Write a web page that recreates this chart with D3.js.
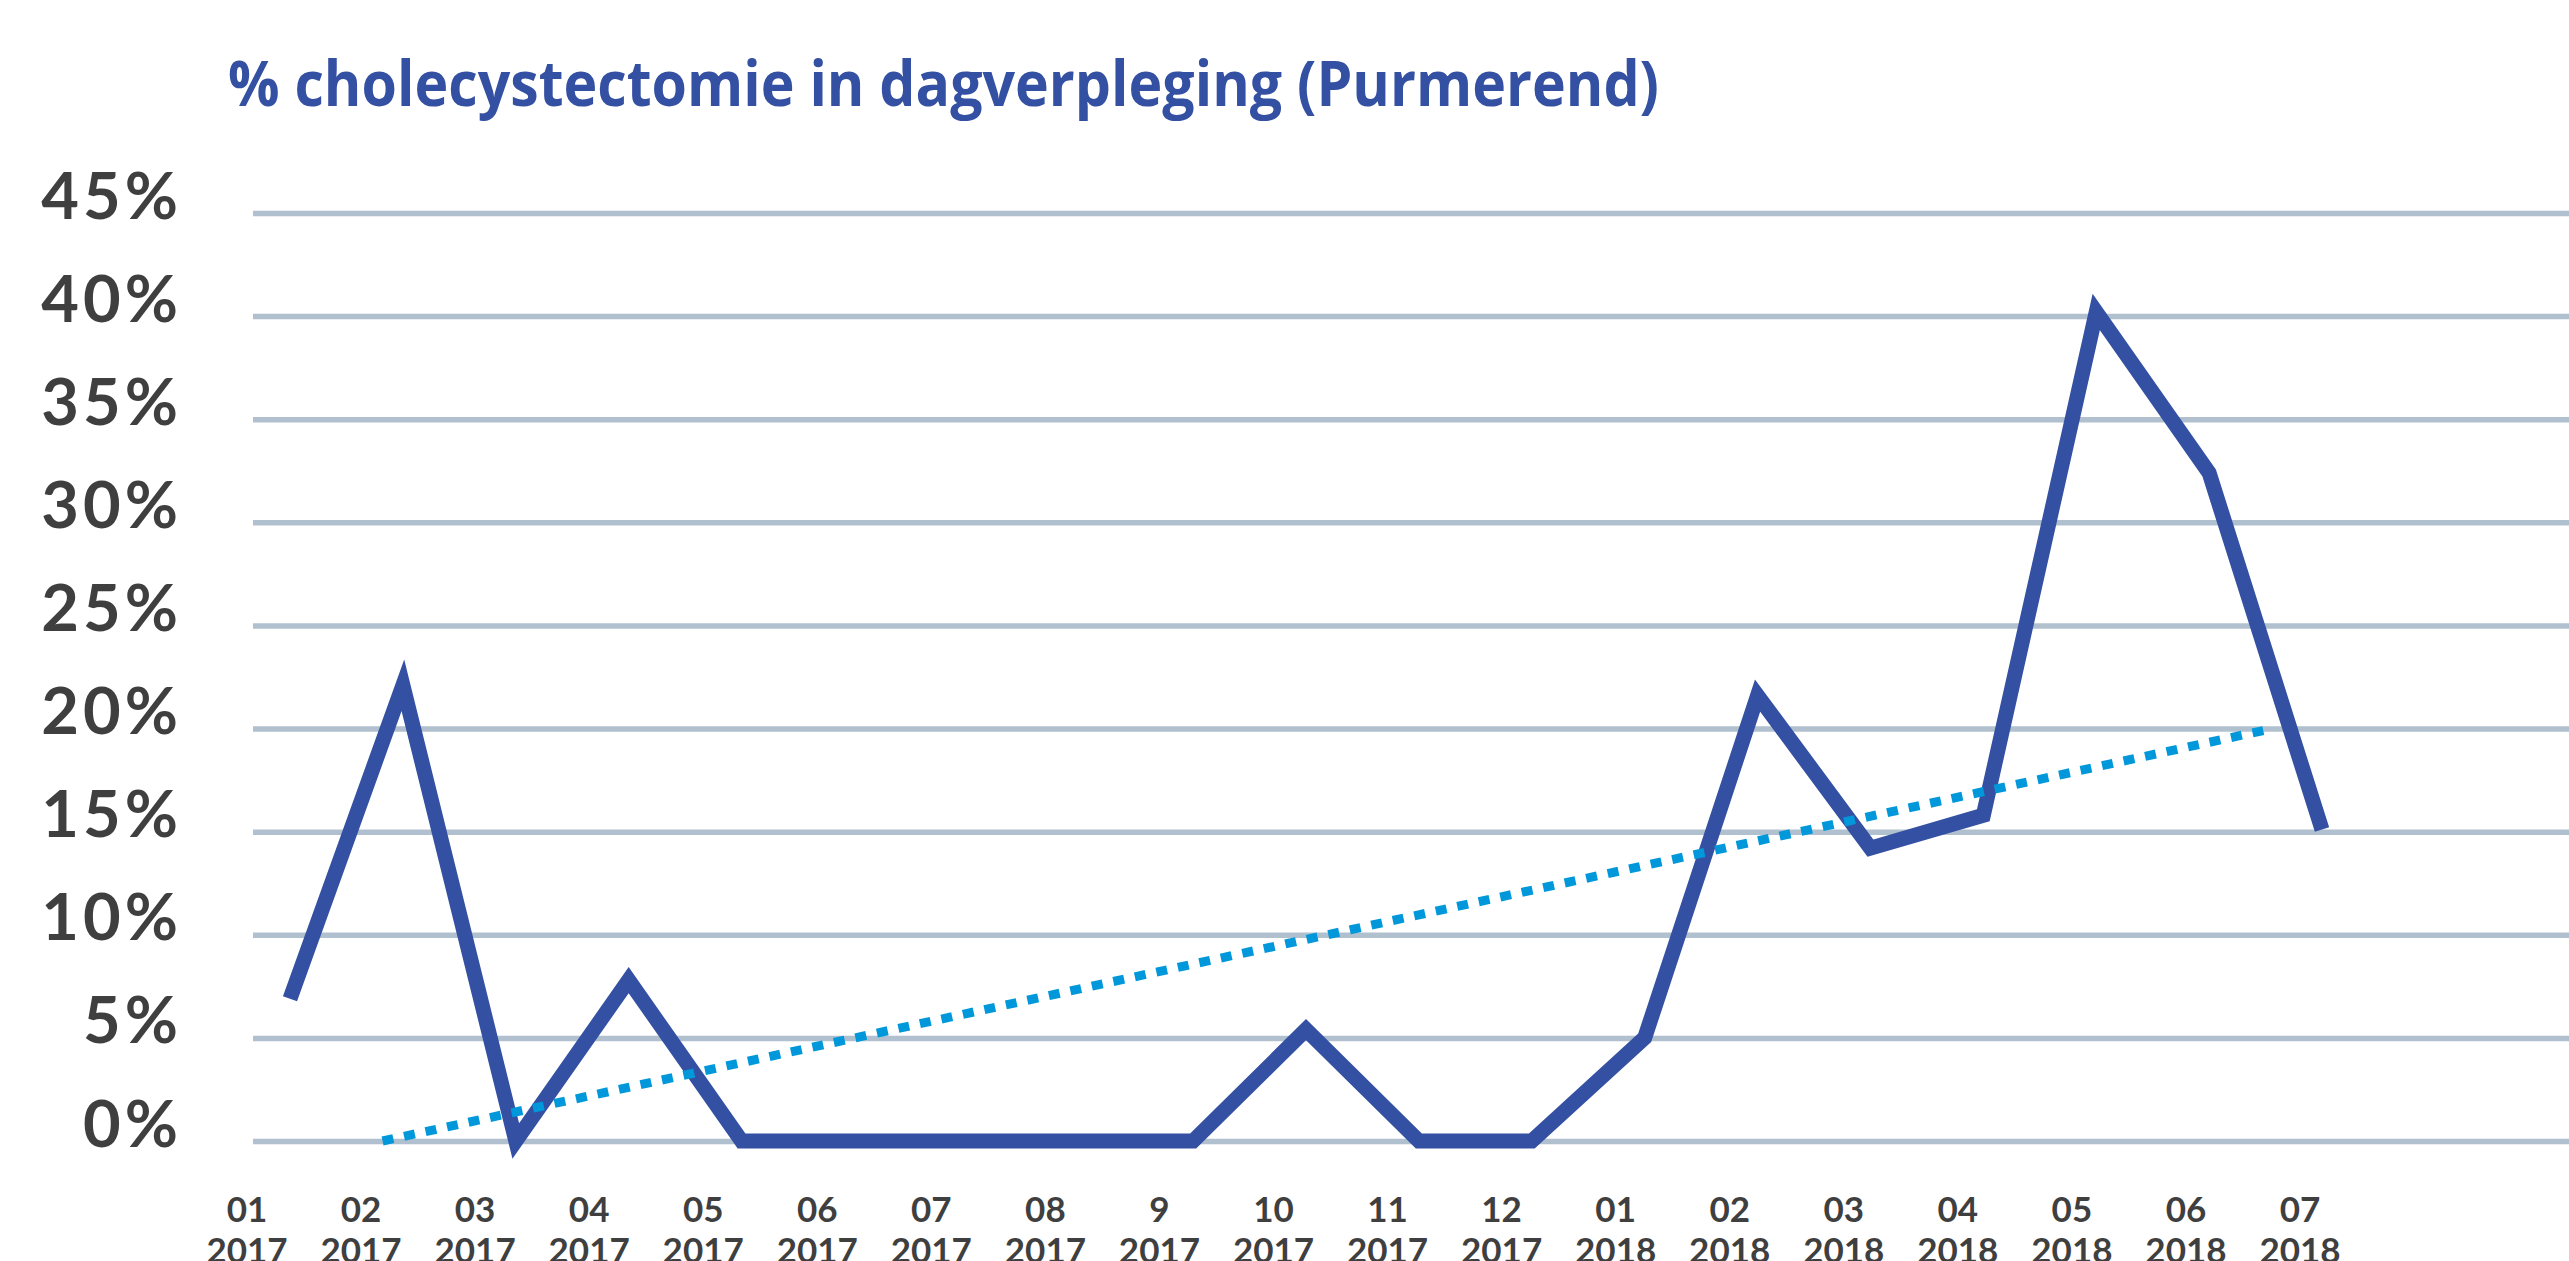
<!DOCTYPE html>
<html lang="nl">
<head>
    <meta charset="UTF-8">
    <title>% cholecystectomie in dagverpleging (Purmerend)</title>
    <script src="https://d3js.org/d3.v7.min.js"></script>
    <style>
        html, body { margin: 0; padding: 0; background: #fff; overflow: hidden; }
        svg { display: block; }
    </style>
</head>
<body>
    <script>
       // Data
       var months = ["01", "02", "03", "04", "05", "06", "07", "08", "9", "10", "11", "12",
                     "01", "02", "03", "04", "05", "06", "07"];
       var years = ["2017", "2017", "2017", "2017", "2017", "2017", "2017", "2017", "2017", "2017", "2017", "2017",
                    "2018", "2018", "2018", "2018", "2018", "2018", "2018"];
       var values = [6.9, 22.1, 0, 7.8, 0, 0, 0, 0, 0, 5.4, 0, 0,
                     5.0, 21.6, 14.2, 15.8, 40.2, 32.4, 15.1];
       var yTicks = [0, 5, 10, 15, 20, 25, 30, 35, 40, 45];
       // trend line (start / end, in month index and %)
       var trendIdx = [0.82, 17.56];
       var trendVal = [0, 20];

       var width = 2569, height = 1261;
       var gridLeft = 253;

       var svg = d3.select("body").append("svg")
           .attr("width", width)
           .attr("height", height);

       // Set the ranges (points and labels are not aligned in the original)
       var x = d3.scaleLinear().domain([0, 18]).range([290, 2322]);
       var xLab = d3.scaleLinear().domain([0, 18]).range([247, 2300]);
       var y = d3.scaleLinear().domain([0, 45]).range([1141, 213]);

       // Title
       svg.append("text")
           .attr("x", 228)
           .attr("y", 106)
           .attr("font-family", "'Open Sans', sans-serif")
           .attr("font-weight", 700)
           .attr("font-size", 62)
           .attr("fill", "#3450a2")
           .attr("textLength", 1431)
           .attr("lengthAdjust", "spacingAndGlyphs")
           .text("% cholecystectomie in dagverpleging (Purmerend)");

       // Y axis with gridlines
       var yAxis = svg.append("g")
           .attr("transform", "translate(" + gridLeft + ",0)")
           .call(d3.axisLeft(y)
               .tickValues(yTicks)
               .tickFormat(function(d) { return d + "%"; })
               .tickSize(-(width - gridLeft))
               .tickPadding(71));
       yAxis.select(".domain").remove();
       yAxis.attr("font-family", "Lato, sans-serif")
           .attr("font-size", 65)
           .attr("font-weight", 700);
       yAxis.selectAll(".tick line")
           .attr("stroke", "#b1c0ce")
           .attr("stroke-width", 5.5);
       yAxis.selectAll(".tick text")
           .attr("fill", "#3f3f3f")
           .attr("letter-spacing", 4)
           .attr("dy", 5);

       // X labels (month / year)
       var xLabels = svg.append("g")
           .attr("font-family", "Lato, sans-serif")
           .attr("font-size", 35)
           .attr("font-weight", 700)
           .attr("fill", "#3f3f3f")
           .attr("text-anchor", "middle");

       var lab = xLabels.selectAll("text")
           .data(months)
           .enter().append("text")
           .attr("x", function(d, i) { return xLab(i); })
           .attr("y", 1222);
       lab.append("tspan").text(function(d) { return d; });
       lab.append("tspan")
           .attr("x", function(d, i) { return xLab(i); })
           .attr("dy", 41)
           .text(function(d, i) { return years[i]; });

       // Main line
       var valueline = d3.line()
           .x(function(d, i) { return x(i); })
           .y(function(d) { return y(d); });

       svg.append("path")
           .datum(values)
           .attr("d", valueline)
           .attr("fill", "none")
           .attr("stroke", "#3450a2")
           .attr("stroke-width", 15)
           .attr("stroke-linejoin", "miter")
           .attr("stroke-miterlimit", 20)
           .attr("stroke-linecap", "butt");

       // Trend line (dotted)
       svg.append("line")
           .attr("x1", x(trendIdx[0]))
           .attr("y1", y(trendVal[0]))
           .attr("x2", x(trendIdx[1]))
           .attr("y2", y(trendVal[1]))
           .attr("stroke", "#0098da")
           .attr("stroke-width", 9)
           .attr("stroke-dasharray", "11,11");
    </script>
</body>
</html>
